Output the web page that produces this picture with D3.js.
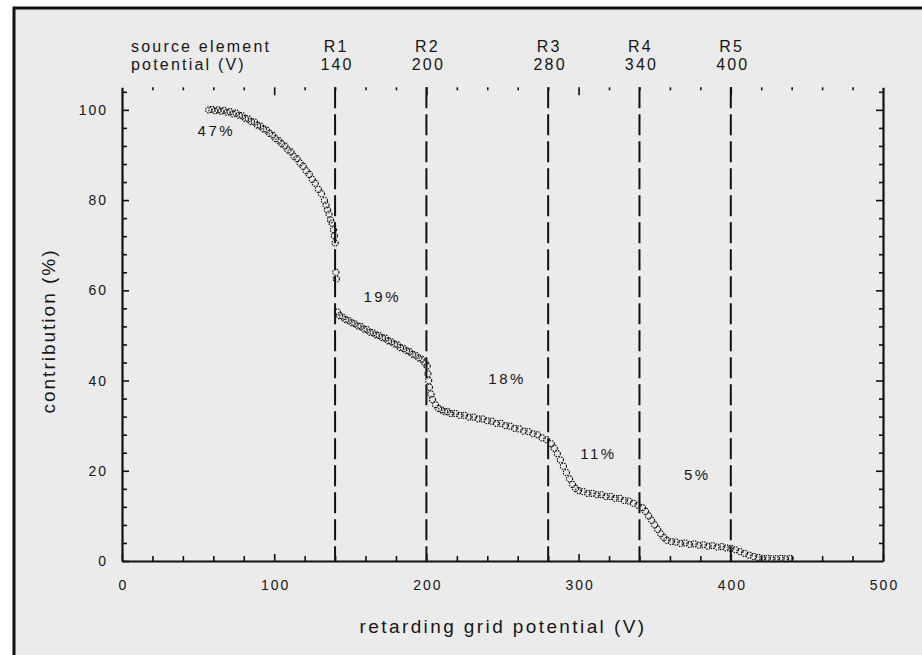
<!DOCTYPE html>
<html>
<head>
<meta charset="utf-8">
<script src="https://cdn.jsdelivr.net/npm/d3@7"></script>
<style>
  html, body { margin: 0; padding: 0; background: #ffffff; }
  svg { display: block; }
  text { font-family: "Liberation Sans", Arial, sans-serif; fill: #161616; }
</style>
</head>
<body>
<svg id="chart" width="922" height="655"></svg>
<script>
// Retarding grid potential (V) vs. cumulative contribution (%)
const potentialV = [
  57, 59, 61, 63, 65, 67, 69, 71, 73, 75, 77, 79, 81, 83, 85, 87, 89, 91, 93, 95,
  97, 99, 101, 103, 105, 107, 109, 111, 113, 115, 117, 119, 121, 123, 125, 127, 129, 131, 133, 134,
  135, 136, 137, 138, 139, 139.5, 140, 140.5, 140.8,
  141.5, 143, 145, 147, 149, 151, 153, 155, 157, 159, 161, 163, 165, 167, 169, 171, 173, 175, 177, 179,
  181, 183, 185, 187, 189, 191, 193, 195, 197, 199, 200.5,
  201, 201.5, 202, 203, 204, 206, 208, 210, 212, 214, 216, 219, 222, 225, 228, 231, 234, 237, 240,
  243, 246, 249, 252, 255, 258, 261, 264, 267, 270, 273, 276, 279, 282, 284, 286, 288, 290, 292, 294,
  296, 298, 300, 303, 306, 309, 312, 315, 318, 321, 324, 327, 330, 333, 336, 339, 342, 344, 346, 348,
  350, 352, 354, 356, 358, 361, 364, 367, 370, 373, 376, 379, 382, 385, 388, 391, 394, 397, 400, 403,
  406, 409, 412, 415, 418, 421, 424, 427, 430, 433, 436, 439
];
const contributionPct = [
  100, 100.1, 99.8, 100, 99.7, 99.9, 99.5, 99.6, 99.1, 99.3, 98.8, 98.7, 98.1, 98.0, 97.4, 97.3, 96.6, 96.4, 95.8, 95.5,
  94.8, 94.4, 93.6, 93.2, 92.5, 92.0, 91.1, 90.7, 89.7, 89.2, 88.2, 87.5, 86.5, 85.7, 84.6, 83.7, 82.4, 81.4, 79.9, 78.9,
  77.8, 76.9, 75.6, 74.9, 73.4, 72.1, 70.5, 64.0, 62.5,
  55.2, 54.4, 54.1, 53.5, 53.3, 52.8, 52.6, 52.1, 52.0, 51.4, 51.3, 50.7, 50.6, 50.1, 50.0, 49.5, 49.4, 48.8, 48.6, 48.1,
  47.9, 47.3, 47.1, 46.6, 46.4, 45.8, 45.6, 45.0, 44.7, 43.9, 43.2,
  41.5, 40.0, 38.5, 37.0, 35.8, 34.6, 33.8, 33.5, 33.1, 33.1, 32.7, 32.7, 32.3, 32.3, 31.9, 31.9, 31.5, 31.5, 31.1,
  31.0, 30.5, 30.5, 30.0, 29.9, 29.4, 29.3, 28.8, 28.7, 28.2, 28.0, 27.3, 26.9, 26.0, 25.0, 23.8, 22.4, 21.0, 19.6, 18.2,
  17.0, 16.1, 15.6, 15.4, 15.0, 15.0, 14.7, 14.7, 14.3, 14.3, 13.9, 13.9, 13.4, 13.3, 12.8, 12.4, 11.8, 11.0, 10.0, 9.0,
  8.0, 7.0, 6.0, 5.2, 4.6, 4.3, 4.2, 3.9, 4.0, 3.7, 3.8, 3.5, 3.6, 3.3, 3.4, 3.1, 3.2, 2.9, 2.8, 2.5,
  2.1, 1.7, 1.3, 1.0, 0.8, 0.6, 0.6, 0.5, 0.5, 0.6, 0.5, 0.6
];

// Source element potentials marked by dashed lines
const elementNames = ["R1", "R2", "R3", "R4", "R5"];
const elementPotentials = [140, 200, 280, 340, 400];

// Share of the signal between neighbouring lines
const shareLabels = ["47%", "19%", "18%", "11%", "5%"];
const shareAtV = [62, 171, 253, 313, 378];
const shareAtPct = [94.3, 57.3, 39.3, 22.6, 17.9];

const xTicks = [0, 100, 200, 300, 400, 500];
const yTicks = [0, 20, 40, 60, 80, 100];

const svg = d3.select("#chart");

// panel background and frame
svg.append("rect")
  .attr("x", 14).attr("y", 8).attr("width", 940).attr("height", 700)
  .attr("fill", "#ebebeb").attr("stroke", "#111").attr("stroke-width", 3);

const x = d3.scaleLinear().domain([0, 500]).range([122, 883]);
const y = d3.scaleLinear().domain([0, 105]).range([561, 87.3]);

const minorX = d3.range(0, 501, 20);
const minorY = d3.range(0, 105, 4);

// bottom axis
const gx = svg.append("g").attr("transform", `translate(0,${y(0)})`)
  .call(d3.axisBottom(x).tickValues(minorX).tickSizeInner(-5).tickSizeOuter(0).tickPadding(19)
    .tickFormat(d => xTicks.includes(d) ? d : ""));
gx.select(".domain").attr("stroke", "#111").attr("stroke-width", 2.2);
gx.selectAll(".tick line").attr("stroke", "#111").attr("stroke-width", 1.6)
  .attr("y2", d => xTicks.includes(d) ? -7 : -5);
gx.selectAll(".tick text").attr("font-size", 14).attr("letter-spacing", "2px").attr("fill", "#161616")
  .attr("dx", "1px");

// top ticks without a line
const gt = svg.append("g").attr("transform", `translate(0,${y(105)})`)
  .call(d3.axisTop(x).tickValues(minorX.filter(d => d > 0 && d < 500)).tickSizeInner(-4).tickSizeOuter(0).tickFormat(""));
gt.select(".domain").remove();
gt.selectAll(".tick line").attr("stroke", "#111").attr("stroke-width", 1.6)
  .attr("y2", d => d % 100 === 0 ? 8 : 3);

// left axis
const gy = svg.append("g").attr("transform", `translate(${x(0)},0)`)
  .call(d3.axisLeft(y).tickValues(minorY).tickSizeInner(-5).tickSizeOuter(0).tickPadding(14)
    .tickFormat(d => yTicks.includes(d) ? d : ""));
gy.select(".domain").attr("stroke", "#111").attr("stroke-width", 2.2);
gy.selectAll(".tick line").attr("stroke", "#111").attr("stroke-width", 1.6)
  .attr("x2", d => yTicks.includes(d) ? 7 : 5);
gy.selectAll(".tick text").attr("font-size", 14).attr("letter-spacing", "2px").attr("fill", "#161616");

// right axis
const gr = svg.append("g").attr("transform", `translate(${x(500)},0)`)
  .call(d3.axisRight(y).tickValues(minorY.filter(d => d > 0)).tickSizeInner(-4).tickSizeOuter(0).tickFormat(""));
gr.select(".domain").attr("stroke", "#111").attr("stroke-width", 2.2);
gr.selectAll(".tick line").attr("stroke", "#111").attr("stroke-width", 1.6)
  .attr("x2", d => d % 20 === 0 ? -7 : -4);

// dashed element lines
svg.append("g").selectAll("line").data(elementPotentials).join("line")
  .attr("x1", d => x(d)).attr("x2", d => x(d))
  .attr("y1", y(105)).attr("y2", y(0))
  .attr("stroke", "#111").attr("stroke-width", 2)
  .attr("stroke-dasharray", "21,6");

// element labels above the plot
const headerLabels = svg.append("g").attr("font-size", 16).attr("letter-spacing", "2.2px");
headerLabels.selectAll("text.name").data(elementNames).join("text").attr("class", "name")
  .attr("x", (d, i) => x(elementPotentials[i]) + 1).attr("y", 52)
  .attr("text-anchor", "middle").text(d => d);
headerLabels.selectAll("text.volt").data(elementPotentials).join("text").attr("class", "volt")
  .attr("x", d => x(d) + 2).attr("y", 70)
  .attr("text-anchor", "middle").text(d => d);
headerLabels.append("text").attr("x", 131).attr("y", 52).text("source element");
headerLabels.append("text").attr("x", 131).attr("y", 70).text("potential (V)");

// measured points
const pts = potentialV.map((v, i) => [v, contributionPct[i]]);
svg.append("g").selectAll("circle").data(pts).join("circle")
  .attr("cx", d => x(d[0])).attr("cy", d => y(d[1])).attr("r", 3.1)
  .attr("fill", "none").attr("stroke", "#111").attr("stroke-width", 1.1)
  .attr("stroke-dasharray", "1.5,1");

// share labels
svg.append("g").attr("font-size", 15).attr("letter-spacing", "2.5px")
  .selectAll("text").data(shareLabels).join("text")
  .attr("x", (d, i) => x(shareAtV[i])).attr("y", (d, i) => y(shareAtPct[i]))
  .attr("text-anchor", "middle").text(d => d);

// axis titles
svg.append("text").attr("x", 503).attr("y", 633).attr("text-anchor", "middle")
  .attr("font-size", 19).attr("letter-spacing", "2.4px").text("retarding grid potential (V)");
svg.append("text").attr("transform", "translate(55,331) rotate(-90)").attr("text-anchor", "middle")
  .attr("font-size", 19).attr("letter-spacing", "2px").text("contribution (%)");
</script>
</body>
</html>
